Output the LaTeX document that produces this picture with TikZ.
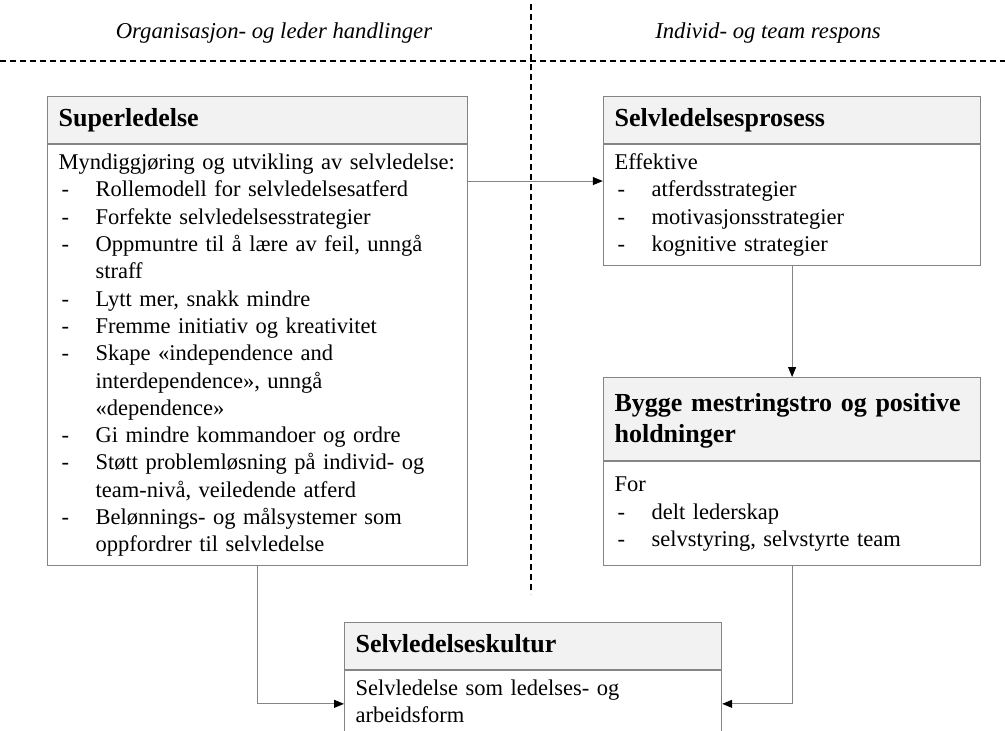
\documentclass[tikz,border=0pt]{standalone}
\usepackage{fontspec}
\setmainfont{Liberation Serif}
\usetikzlibrary{positioning, arrows.meta, fit}

\definecolor{rammegraa}{HTML}{858585}
\definecolor{hodegraa}{HTML}{F2F2F2}

% one "-" item with hanging indent
\newcommand{\punkt}[1]{\par\noindent\hangindent=37pt\hangafter=1\makebox[37pt][l]{\hspace{3pt}-}\strut#1\strut\par}

\begin{document}
\begin{tikzpicture}[
        x=1pt, y=-1pt,
        >={Triangle[length=10pt, width=8pt, color=black]},
        hode/.style={draw=rammegraa, fill=hodegraa, line width=1.2pt, anchor=north west, inner xsep=11pt, text width=#1, align=left, minimum height=47pt, font=\fontsize{26}{31}\selectfont\bfseries, execute at begin node=\strut},
        kropp/.style={draw=rammegraa, fill=white, line width=1.2pt, inner xsep=11pt, inner ysep=5.75pt, text width=#1, align=left, font=\fontsize{22.5}{27.3}\selectfont, execute at begin node=\strut},
        kopling/.style={draw=rammegraa, line width=1pt, ->},
        skille/.style={draw=black, line width=1.4pt, dash pattern=on 6pt off 4pt},
        overskrift/.style={font=\fontsize{22.7}{27.3}\selectfont\itshape, anchor=base}
        ]

        \useasboundingbox (0,0) rectangle (1005,731);
        \clip (0,0) rectangle (1005,731);

        % Column titles and dividers
        \node[overskrift] (venstretittel) at (274,38) {Organisasjon- og leder handlinger};
        \node[overskrift] (hoyretittel) at (768,38) {Individ- og team respons};
        \draw[skille] (0,61) -- (1005,61);
        \draw[skille] (531,4) -- (531,594);

        % Superledelse
        \node[hode=398pt] (superhode) at (47,96) {Superledelse};
        \node[kropp=398pt, below=0pt of superhode] (superkropp) {Myndiggjøring og utvikling av selvledelse:
            \punkt{Rollemodell for selvledelsesatferd}
            \punkt{Forfekte selvledelsesstrategier}
            \punkt{Oppmuntre til å lære av feil, unngå\newline straff}
            \punkt{Lytt mer, snakk mindre}
            \punkt{Fremme initiativ og kreativitet}
            \punkt{Skape «independence and\newline interdependence», unngå\newline «dependence»}
            \punkt{Gi mindre kommandoer og ordre}
            \punkt{Støtt problemløsning på individ- og\newline team-nivå, veiledende atferd}
            \punkt{Belønnings- og målsystemer som\newline oppfordrer til selvledelse}};

        % Selvledelsesprosess
        \node[hode=355pt] (prosesshode) at (603,96) {Selvledelsesprosess};
        \node[kropp=355pt, below=0pt of prosesshode] (prosesskropp) {Effektive
            \punkt{atferdsstrategier}
            \punkt{motivasjonsstrategier}
            \punkt{kognitive strategier}};
        \node[fit=(prosesshode)(prosesskropp), inner sep=0pt] (prosess) {};

        % Bygge mestringstro
        \node[hode=355pt, minimum height=83pt] (byggehode) at (603,377) {Bygge mestringstro og positive\\holdninger};
        \node[kropp=355pt, minimum height=104pt, below=0pt of byggehode] (byggekropp) {For
            \punkt{delt lederskap}
            \punkt{selvstyring, selvstyrte team}};

        % Selvledelseskultur
        \node[hode=355pt] (kulturhode) at (344,622) {Selvledelseskultur};
        \node[kropp=355pt, below=0pt of kulturhode] (kulturkropp) {Selvledelse som ledelses- og\newline arbeidsform\strut};

        % Arrows
        \draw[kopling] (superkropp.east |- prosess.west) -- (prosess.west);
        \draw[kopling] (prosesskropp.south) -- (byggehode.north);
        \draw[kopling] (superkropp.south) |- (kulturkropp.west);
        \draw[kopling] (byggekropp.south) |- (kulturkropp.east);

    \end{tikzpicture}
\end{document}
